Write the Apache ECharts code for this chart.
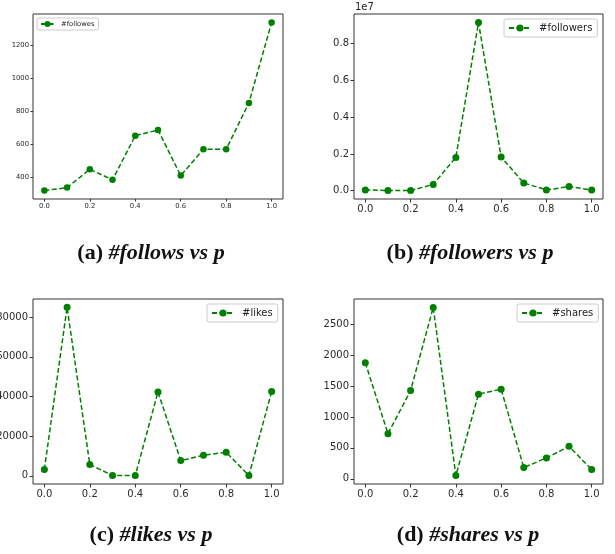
<!DOCTYPE html>
<html><head><meta charset="utf-8">
<script src="https://cdn.jsdelivr.net/npm/echarts@6/dist/echarts.min.js"></script>
<style>html,body{margin:0;padding:0;background:#fff}#c{width:615px;height:554px}</style>
</head><body><div id="c"></div>
<script>
const pValues = [0.0, 0.1, 0.2, 0.3, 0.4, 0.5, 0.6, 0.7, 0.8, 0.9, 1.0];
const follows = [317, 335, 446, 382, 650, 684, 408, 567, 567, 848, 1336];
const followers = [40000, 5000, 3000, 340000, 1810000, 9160000, 1830000, 420000, 40000, 220000, 40000];
const likes = [3200, 85000, 5700, 200, 200, 42300, 7700, 10400, 11900, 200, 42500];
const shares = [1877, 729, 1426, 2769, 53, 1368, 1449, 182, 338, 525, 150];
const xTicks = [0, 0.2, 0.4, 0.6, 0.8, 1.0];
const yTicksA = [400, 600, 800, 1000, 1200];
const yTicksB = [0, 2000000, 4000000, 6000000, 8000000];
const yTicksC = [0, 20000, 40000, 60000, 80000];
const yTicksD = [0, 500, 1000, 1500, 2000, 2500];
const legendNames = ['#followes', '#followers', '#likes', '#shares'];
const captions = [['(a) ', '#follows vs p'], ['(b) ', '#followers vs p'], ['(c) ', '#likes vs p'], ['(d) ', '#shares vs p']];

const series4 = [follows, followers, likes, shares];
const yTicks4 = [yTicksA, yTicksB, yTicksC, yTicksD];
const yRange = [[266, 1387], [-455000, 9620000], [-4100, 89200], [-83, 2905]];
const grids = [
  {left: 33, top: 14, width: 250, height: 185},
  {left: 354, top: 14, width: 249, height: 185},
  {left: 33, top: 299, width: 250, height: 185},
  {left: 354, top: 299, width: 249, height: 185}
];
const small = [true, false, false, false];
const fmtY = [v => String(v), v => (v / 1e7).toFixed(1), v => String(v), v => String(v)];
const GREEN = '#008000';
const AX = '#333';

const chart = echarts.init(document.getElementById('c'));
const option = {
  animation: false,
  backgroundColor: '#fff',
  grid: grids.map(g => Object.assign({show: true, borderColor: AX, borderWidth: 1, backgroundColor: 'transparent',
    containLabel: false, outerBoundsMode: 'none'}, g)),
  xAxis: grids.map((g, i) => ({
    type: 'value', gridIndex: i, min: -0.05, max: 1.05, position: 'bottom',
    axisLine: {show: false, onZero: false},
    splitLine: {show: false},
    axisTick: {show: true, inside: false, customValues: xTicks, length: small[i] ? 2.5 : 3.5, lineStyle: {color: AX}},
    axisLabel: {customValues: xTicks, formatter: v => v.toFixed(1), color: '#2a2a2a',
      fontFamily: 'DejaVu Sans', fontSize: small[i] ? 6.8 : 10, margin: small[i] ? 4 : 5}
  })),
  yAxis: grids.map((g, i) => ({
    type: 'value', gridIndex: i, min: yRange[i][0], max: yRange[i][1], position: 'left',
    axisLine: {show: false, onZero: false},
    splitLine: {show: false},
    axisTick: {show: true, inside: false, customValues: yTicks4[i], length: small[i] ? 2.5 : 3.5, lineStyle: {color: AX}},
    axisLabel: {customValues: yTicks4[i], formatter: fmtY[i], color: '#2a2a2a',
      fontFamily: 'DejaVu Sans', fontSize: small[i] ? 6.8 : 10, margin: small[i] ? 4 : 5}
  })),
  legend: [
    {data: [legendNames[0]], left: 37, top: 18, padding: [2.5, 4, 2.5, 3], itemWidth: 13, itemHeight: 7.5,
     textStyle: {fontFamily: 'DejaVu Sans', fontSize: 6.8, color: '#222', padding: [0, 0, 0, 2]}},
    {data: [legendNames[1]], left: 504, top: 19, padding: [4, 5, 4, 4], itemWidth: 22, itemHeight: 9,
     textStyle: {fontFamily: 'DejaVu Sans', fontSize: 10, color: '#222', padding: [0, 0, 0, 3]}},
    {data: [legendNames[2]], left: 207, top: 304, padding: [4, 5, 4, 4], itemWidth: 22, itemHeight: 9,
     textStyle: {fontFamily: 'DejaVu Sans', fontSize: 10, color: '#222', padding: [0, 0, 0, 3]}},
    {data: [legendNames[3]], left: 517, top: 304, padding: [4, 5, 4, 4], itemWidth: 22, itemHeight: 9,
     textStyle: {fontFamily: 'DejaVu Sans', fontSize: 10, color: '#222', padding: [0, 0, 0, 3]}}
  ].map(l => Object.assign({borderColor: '#ccc', borderWidth: 1, borderRadius: 2, backgroundColor: '#fff', itemGap: 0}, l)),
  series: series4.map((arr, i) => ({
    type: 'line', name: legendNames[i], xAxisIndex: i, yAxisIndex: i,
    data: pValues.map((p, k) => [p, arr[k]]),
    symbol: 'circle', symbolSize: small[i] ? 6.5 : 7,
    itemStyle: {color: GREEN},
    lineStyle: {color: GREEN, width: 1.5, type: small[i] ? [5, 2.5] : [5, 2.5]}
  })),
  graphic: [
    {type: 'text', left: 355, top: 2, style: {text: '1e7', font: '10px "DejaVu Sans"', fill: '#222'}}
  ].concat(captions.map((c, i) => ({
    type: 'text',
    x: [151, 470, 151, 468][i], y: [253, 253, 535, 535][i],
    style: {
      text: '{n|' + c[0] + '}{it|' + c[1] + '}',
      align: 'center', verticalAlign: 'middle',
      rich: {
        n: {font: 'bold 22px "Liberation Serif"', fill: '#111'},
        it: {font: 'italic bold 22px "Liberation Serif"', fill: '#111'}
      }
    }
  })))
};
chart.setOption(option);
</script>
</body></html>
